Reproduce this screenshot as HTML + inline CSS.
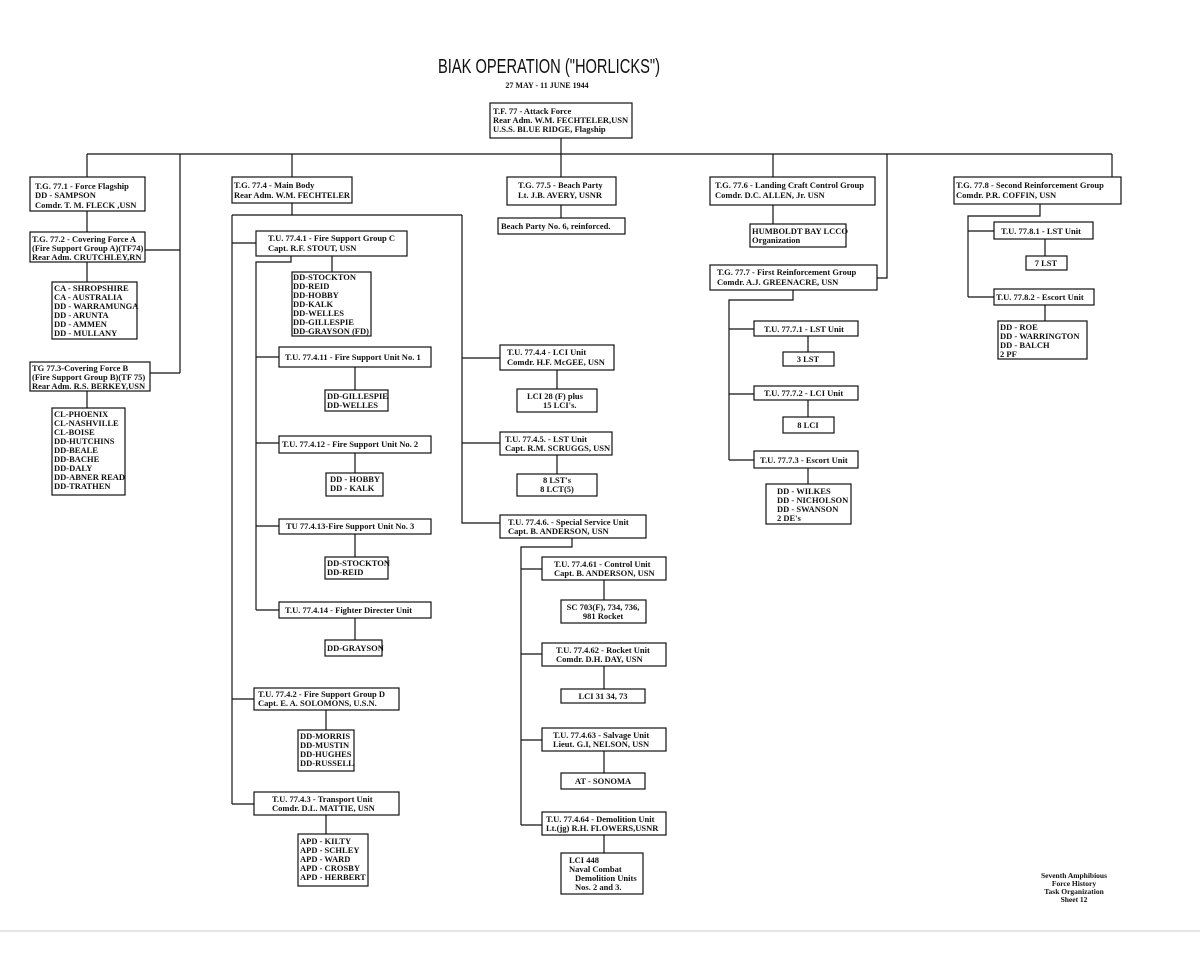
<!DOCTYPE html>
<html><head><meta charset="utf-8"><style>
html,body{margin:0;padding:0;background:#fff}
svg{display:block}
text{font-family:"Liberation Serif",serif;font-weight:bold;font-size:8.5px;fill:#111}
.t{font-family:"Liberation Sans",sans-serif;font-weight:normal;font-size:20px}
rect{fill:#fff;stroke:#111;stroke-width:1.2}
path{fill:none;stroke:#111;stroke-width:1.2}
</style></head><body>
<svg width="1200" height="962" viewBox="0 0 1200 962" xmlns="http://www.w3.org/2000/svg">
<text class="t" x="438" y="73" textLength="222" lengthAdjust="spacingAndGlyphs">BIAK OPERATION ("HORLICKS")</text>
<text x="547" y="88" text-anchor="middle" style="font-size:8px">27 MAY - 11 JUNE 1944</text>

<!-- connectors -->
<path d="M561 138V177 M87 154H1112 M87 154V177 M180 154V373 M145 250H180 M150 373H180 M292 154V177 M773 154V177 M887 154V278H877 M1112 154V177
M87 211V232 M87 262V282 M87 391V408
M292 203V215 M232 215H462 M232 215V804 M232 243H256 M232 699H254 M232 804H254
M291 256V262H256V610 M332 256V272 M256 357H279 M256 443H279 M256 526H279 M256 610H279
M355 367V390 M355 453V473 M355 534V557 M355 618V640 M326 710V730 M326 815V834
M462 215V523H500 M462 358H500 M462 443H500 M557 370V389 M557 455V474
M572 538V547H521V825 M521 569H542 M521 654H542 M521 740H542 M521 825H542
M604 580V600 M604 666V689 M604 751V773 M604 835V853
M561 205V218 M773 205V224
M793 290V300H729V460 M729 329H754 M729 394H754 M729 460H754 M808 336V352 M808 400V417 M808 468V484
M1040 204V216H968V297 M968 231H994 M968 297H994 M1045 239V256 M1045 305V321"/>

<!-- TF 77 -->
<rect x="490" y="103" width="142" height="35"/>
<text x="493" y="114">T.F. 77 - Attack Force</text>
<text x="493" y="123">Rear Adm. W.M. FECHTELER,USN</text>
<text x="493" y="132">U.S.S. BLUE RIDGE, Flagship</text>

<!-- left column -->
<rect x="30" y="177" width="115" height="34"/>
<text x="35" y="189">T.G. 77.1 - Force Flagship</text>
<text x="35" y="198">DD - SAMPSON</text>
<text x="35" y="208">Comdr. T. M. FLECK ,USN</text>

<rect x="30" y="232" width="115" height="30"/>
<text x="32" y="242">T.G. 77.2 - Covering Force A</text>
<text x="32" y="251">(Fire Support Group A)(TF74)</text>
<text x="32" y="260">Rear Adm. CRUTCHLEY,RN</text>

<rect x="52" y="282" width="85" height="57"/>
<text x="54" y="291">CA - SHROPSHIRE</text>
<text x="54" y="300">CA - AUSTRALIA</text>
<text x="54" y="309">DD - WARRAMUNGA</text>
<text x="54" y="318">DD - ARUNTA</text>
<text x="54" y="327">DD - AMMEN</text>
<text x="54" y="336">DD - MULLANY</text>

<rect x="30" y="362" width="120" height="29"/>
<text x="32" y="371">TG 77.3-Covering Force B</text>
<text x="32" y="380">(Fire Support Group B)(TF 75)</text>
<text x="32" y="389">Rear Adm. R.S. BERKEY,USN</text>

<rect x="52" y="408" width="73" height="87"/>
<text x="54" y="417">CL-PHOENIX</text>
<text x="54" y="426">CL-NASHVILLE</text>
<text x="54" y="435">CL-BOISE</text>
<text x="54" y="444">DD-HUTCHINS</text>
<text x="54" y="453">DD-BEALE</text>
<text x="54" y="462">DD-BACHE</text>
<text x="54" y="471">DD-DALY</text>
<text x="54" y="480">DD-ABNER READ</text>
<text x="54" y="489">DD-TRATHEN</text>

<!-- TG 77.4 -->
<rect x="232" y="177" width="120" height="26"/>
<text x="234" y="188">T.G. 77.4 - Main Body</text>
<text x="234" y="198">Rear Adm. W.M. FECHTELER</text>

<rect x="256" y="231" width="151" height="25"/>
<text x="268" y="241">T.U. 77.4.1 - Fire Support Group C</text>
<text x="268" y="251">Capt. R.F. STOUT, USN</text>

<rect x="292" y="272" width="79" height="64"/>
<text x="293" y="280">DD-STOCKTON</text>
<text x="293" y="289">DD-REID</text>
<text x="293" y="298">DD-HOBBY</text>
<text x="293" y="307">DD-KALK</text>
<text x="293" y="316">DD-WELLES</text>
<text x="293" y="325">DD-GILLESPIE</text>
<text x="293" y="334">DD-GRAYSON (FD)</text>

<rect x="279" y="347" width="152" height="20"/>
<text x="285" y="360">T.U. 77.4.11 - Fire Support Unit No. 1</text>
<rect x="325" y="390" width="63" height="21"/>
<text x="327" y="399">DD-GILLESPIE</text>
<text x="327" y="408">DD-WELLES</text>

<rect x="279" y="436" width="152" height="17"/>
<text x="282" y="447">T.U. 77.4.12 - Fire Support Unit No. 2</text>
<rect x="326" y="473" width="57" height="23"/>
<text x="330" y="482">DD - HOBBY</text>
<text x="330" y="491">DD - KALK</text>

<rect x="279" y="519" width="152" height="15"/>
<text x="286" y="529">TU 77.4.13-Fire Support Unit No. 3</text>
<rect x="325" y="557" width="63" height="22"/>
<text x="327" y="566">DD-STOCKTON</text>
<text x="327" y="575">DD-REID</text>

<rect x="279" y="602" width="152" height="16"/>
<text x="285" y="613">T.U. 77.4.14 - Fighter Directer Unit</text>
<rect x="325" y="640" width="57" height="16"/>
<text x="327" y="651">DD-GRAYSON</text>

<rect x="254" y="688" width="145" height="22"/>
<text x="258" y="697">T.U. 77.4.2 - Fire Support Group D</text>
<text x="258" y="706">Capt. E. A. SOLOMONS, U.S.N.</text>
<rect x="298" y="730" width="56" height="41"/>
<text x="300" y="739">DD-MORRIS</text>
<text x="300" y="748">DD-MUSTIN</text>
<text x="300" y="757">DD-HUGHES</text>
<text x="300" y="766">DD-RUSSELL</text>

<rect x="254" y="792" width="145" height="23"/>
<text x="272" y="802">T.U. 77.4.3 - Transport Unit</text>
<text x="272" y="811">Comdr. D.L. MATTIE, USN</text>
<rect x="298" y="834" width="70" height="52"/>
<text x="300" y="844">APD - KILTY</text>
<text x="300" y="853">APD - SCHLEY</text>
<text x="300" y="862">APD - WARD</text>
<text x="300" y="871">APD - CROSBY</text>
<text x="300" y="880">APD - HERBERT</text>

<!-- middle column -->
<rect x="500" y="345" width="114" height="25"/>
<text x="507" y="355">T.U. 77.4.4 - LCI Unit</text>
<text x="507" y="365">Comdr. H.F. McGEE, USN</text>
<rect x="517" y="389" width="80" height="23"/>
<text x="527" y="399">LCI 28 (F) plus</text>
<text x="543" y="408">15 LCI's.</text>

<rect x="500" y="432" width="112" height="23"/>
<text x="505" y="442">T.U. 77.4.5. - LST Unit</text>
<text x="505" y="451">Capt. R.M. SCRUGGS, USN</text>
<rect x="517" y="474" width="80" height="22"/>
<text x="557" y="483" text-anchor="middle">8 LST's</text>
<text x="557" y="492" text-anchor="middle">8 LCT(5)</text>

<rect x="500" y="515" width="146" height="23"/>
<text x="508" y="525">T.U. 77.4.6. - Special Service Unit</text>
<text x="508" y="534">Capt. B. ANDERSON, USN</text>

<rect x="542" y="557" width="124" height="23"/>
<text x="554" y="567">T.U. 77.4.61 - Control Unit</text>
<text x="554" y="576">Capt. B. ANDERSON, USN</text>
<rect x="561" y="600" width="85" height="23"/>
<text x="603" y="610" text-anchor="middle">SC 703(F), 734, 736,</text>
<text x="603" y="619" text-anchor="middle">981 Rocket</text>

<rect x="542" y="643" width="124" height="23"/>
<text x="556" y="653">T.U. 77.4.62 - Rocket Unit</text>
<text x="556" y="662">Comdr. D.H. DAY, USN</text>
<rect x="561" y="689" width="84" height="14"/>
<text x="603" y="699" text-anchor="middle">LCI 31  34, 73</text>

<rect x="542" y="728" width="124" height="23"/>
<text x="553" y="738">T.U. 77.4.63 - Salvage Unit</text>
<text x="553" y="747">Lieut. G.I, NELSON, USN</text>
<rect x="561" y="773" width="84" height="16"/>
<text x="603" y="784" text-anchor="middle">AT - SONOMA</text>

<rect x="542" y="812" width="124" height="23"/>
<text x="546" y="822">T.U. 77.4.64 - Demolition Unit</text>
<text x="546" y="831">Lt.(jg) R.H. FLOWERS,USNR</text>
<rect x="561" y="853" width="82" height="41"/>
<text x="569" y="863">LCI 448</text>
<text x="569" y="872">Naval Combat</text>
<text x="575" y="881">Demolition Units</text>
<text x="575" y="890">Nos. 2 and 3.</text>

<rect x="507" y="177" width="109" height="28"/>
<text x="518" y="188">T.G. 77.5 - Beach Party</text>
<text x="518" y="198">Lt. J.B. AVERY, USNR</text>
<rect x="498" y="218" width="127" height="16"/>
<text x="501" y="229">Beach Party No. 6, reinforced.</text>

<!-- TG 77.6 / 77.7 -->
<rect x="710" y="177" width="165" height="28"/>
<text x="715" y="188">T.G. 77.6 - Landing Craft Control Group</text>
<text x="715" y="198">Comdr. D.C. ALLEN, Jr. USN</text>
<rect x="750" y="224" width="96" height="23"/>
<text x="752" y="234">HUMBOLDT BAY LCCO</text>
<text x="752" y="243">Organization</text>

<rect x="710" y="265" width="167" height="25"/>
<text x="717" y="275">T.G. 77.7 - First Reinforcement Group</text>
<text x="717" y="285">Comdr. A.J. GREENACRE, USN</text>

<rect x="754" y="321" width="104" height="15"/>
<text x="764" y="332">T.U. 77.7.1 - LST Unit</text>
<rect x="783" y="352" width="51" height="14"/>
<text x="808" y="362" text-anchor="middle">3 LST</text>

<rect x="754" y="386" width="104" height="14"/>
<text x="764" y="396">T.U. 77.7.2 - LCI Unit</text>
<rect x="783" y="417" width="51" height="16"/>
<text x="808" y="428" text-anchor="middle">8 LCI</text>

<rect x="754" y="451" width="104" height="17"/>
<text x="760" y="463">T.U. 77.7.3 - Escort Unit</text>
<rect x="766" y="484" width="85" height="40"/>
<text x="777" y="494">DD - WILKES</text>
<text x="777" y="503">DD - NICHOLSON</text>
<text x="777" y="512">DD - SWANSON</text>
<text x="777" y="521">2 DE's</text>

<!-- TG 77.8 -->
<rect x="954" y="177" width="167" height="27"/>
<text x="956" y="188">T.G. 77.8 - Second Reinforcement Group</text>
<text x="956" y="198">Comdr. P.R. COFFIN, USN</text>

<rect x="994" y="222" width="99" height="17"/>
<text x="1001" y="234">T.U. 77.8.1 - LST Unit</text>
<rect x="1026" y="256" width="41" height="14"/>
<text x="1046" y="266" text-anchor="middle">7 LST</text>

<rect x="994" y="289" width="100" height="16"/>
<text x="996" y="300">T.U. 77.8.2 - Escort Unit</text>
<rect x="998" y="321" width="89" height="38"/>
<text x="1000" y="330">DD - ROE</text>
<text x="1000" y="339">DD - WARRINGTON</text>
<text x="1000" y="348">DD - BALCH</text>
<text x="1000" y="357">2 PF</text>

<!-- footer -->
<text x="1074" y="878" text-anchor="middle" style="font-size:7.5px">Seventh Amphibious</text>
<text x="1074" y="886" text-anchor="middle" style="font-size:7.5px">Force History</text>
<text x="1074" y="894" text-anchor="middle" style="font-size:7.5px">Task Organization</text>
<text x="1074" y="902" text-anchor="middle" style="font-size:7.5px">Sheet 12</text>
<path d="M0 931H1200" style="stroke:#ccc;stroke-width:1"/>
</svg>
</body></html>
